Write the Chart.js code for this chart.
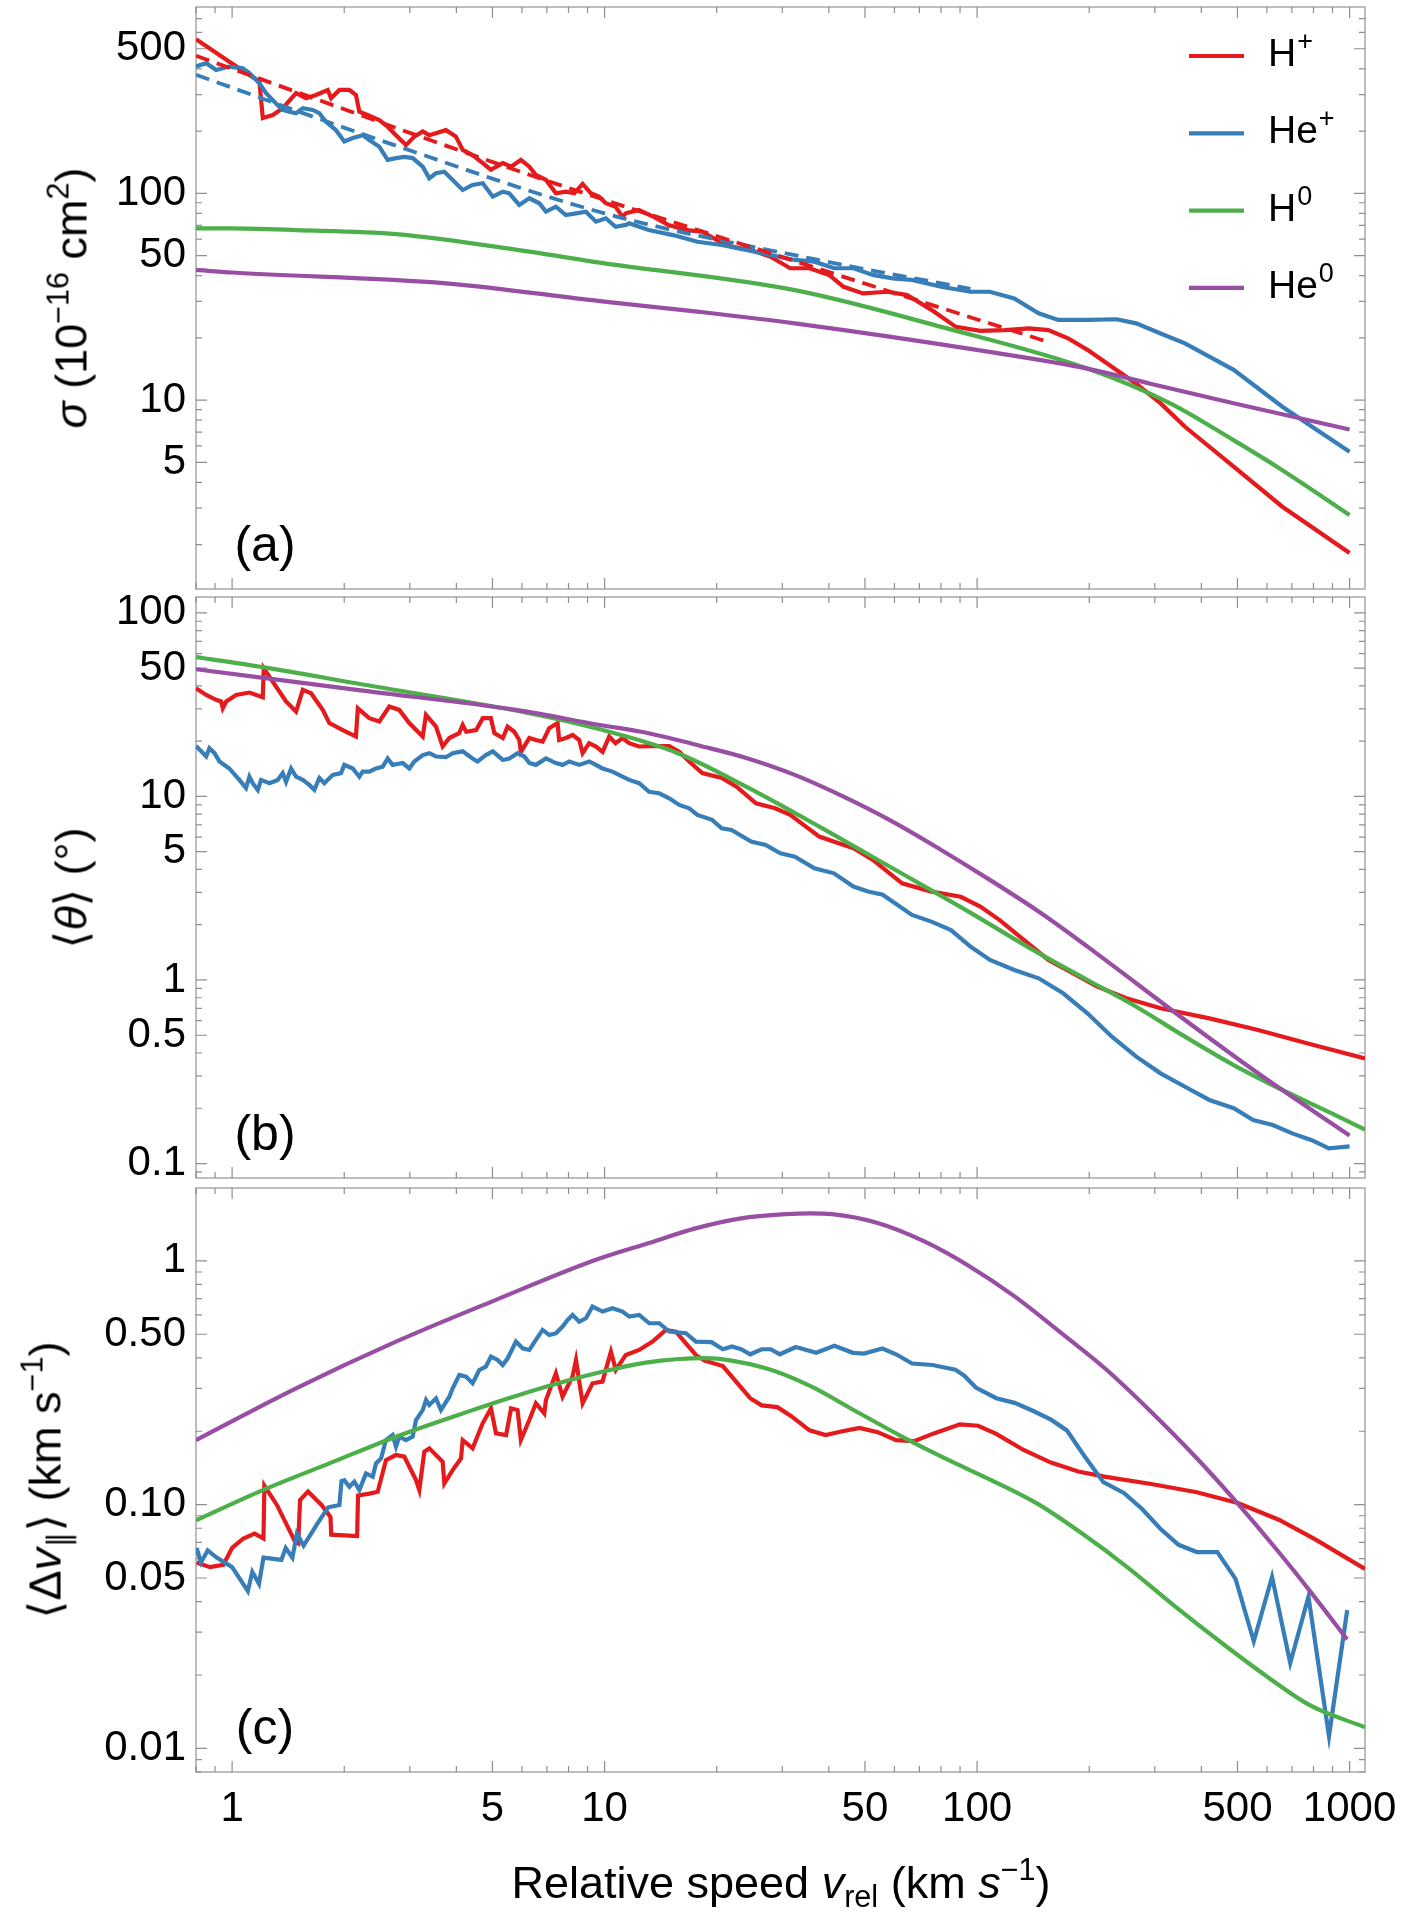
<!DOCTYPE html>
<html>
<head>
<meta charset="utf-8">
<script src="https://cdn.jsdelivr.net/npm/chart.js@4.4.1/dist/chart.umd.min.js"></script>
<style>
    body { margin: 0; background: #fff; }
    #fig { position: relative; width: 1408px; height: 1920px; font-family: 'Liberation Sans', Arial, sans-serif; color: #000; }
    canvas { position: absolute; left: 0; }
    .ytitle { position: absolute; font-size: 45px; white-space: nowrap; line-height: 1; transform: translate(-50%, -50%) rotate(-90deg); }
    .xtitle { position: absolute; font-size: 45px; white-space: nowrap; line-height: 1; transform: translateX(-50%); }
    sup { font-size: 0.68em; vertical-align: 0.6em; line-height: 0; }
    sub { font-size: 0.68em; vertical-align: -0.3em; line-height: 0; }
</style>
</head>
<body>
<div id="fig">
    <canvas id="chartA" width="1408" height="600" style="top:0"></canvas>
    <canvas id="chartB" width="1408" height="600" style="top:590px"></canvas>
    <canvas id="chartC" width="1408" height="740" style="top:1180px"></canvas>
    <div class="ytitle" style="left:71px;top:298px"><i>σ</i> (10<sup>−16</sup> cm<sup>2</sup>)</div>
    <div class="ytitle" style="left:71px;top:888px">⟨<i>θ</i>⟩ (°)</div>
    <div class="ytitle" style="left:45px;top:1480px">⟨Δ<i>v</i><sub>∥</sub>⟩ (km s<sup>−1</sup>)</div>
    <div class="xtitle" style="left:781px;top:1860px">Relative speed <i>v</i><sub>rel</sub> (km <i>s</i><sup>−1</sup>)</div>
</div>
<script>
Chart.defaults.font.family = "'Liberation Sans', Arial, sans-serif";
Chart.defaults.color = '#000';

// eksen ayarlari
const speedMin = 0.8, speedMax = 1100;
const xTickValues = [1, 5, 10, 50, 100, 500, 1000];
const sigmaTicks = [5, 10, 50, 100, 500];
const thetaTicks = [0.1, 0.5, 1, 5, 10, 50, 100];
const dvTicks = [0.01, 0.05, 0.1, 0.5, 1];
const dvTickLabels = ['0.01', '0.05', '0.10', '0.50', '1'];

// lejant
const speciesBase = ['H', 'He', 'H', 'He'];
const speciesSup = ['+', '+', '0', '0'];
const speciesColors = ['#e41a1c', '#377eb8', '#4daf4a', '#984ea3'];

// (a) cross section, [v_rel, sigma]
const sigmaHp = [[0.8,556],[0.983,433],[1.184,347],[1.209,231],[1.286,239],[1.368,258],[1.485,305],[1.58,288],[1.68,299],[1.806,316],[1.844,288],[1.941,316],[2.064,316],[2.15,299],[2.196,248],[2.335,237],[2.484,226],[2.616,210],[2.754,191],[2.93,171],[3.084,188],[3.249,199],[3.383,191],[3.75,202],[3.99,188],[4.16,162],[4.42,153],[4.71,140],[4.95,130],[5.33,140],[5.61,134.5],[5.96,145],[6.28,134.5],[6.54,122.6],[6.96,116],[7.4,100],[7.87,101.8],[8.29,100],[8.73,111],[9.19,100],[9.67,96.3],[10.08,89.5],[10.7,86.1],[11.17,77],[11.4,80],[12.36,83],[13.54,77],[14.82,70.3],[16.7,66.4],[18.29,65.2],[20.03,59.4],[21.92,55.2],[24.7,53.2],[27.9,49.3],[31.5,43.4],[35.5,43.4],[40.05,40.3],[43.8,35.3],[49.4,32.8],[57.5,33.4],[64.9,32.2],[75.4,27.3],[87.7,22.6],[102,21.6],[118.6,21.8],[137.8,22.2],[155.4,21.8],[175.4,19.9],[197.8,17.5],[230,14.5],[267.4,12.0],[311,9.64],[361.5,7.43],[488.5,4.76],[660,3.05],[1000,1.82]];
const sigmaHep = [[0.8,410],[0.852,426],[0.906,395],[0.983,410],[1.068,402],[1.113,381],[1.184,340],[1.234,305],[1.312,272],[1.368,253],[1.424,248],[1.485,244],[1.548,258],[1.646,253],[1.715,244],[1.787,222],[1.901,202],[2.001,178],[2.108,185],[2.242,191],[2.335,181],[2.484,168],[2.616,145],[2.754,148],[2.9,150],[3.054,148],[3.249,134.5],[3.383,118.2],[3.527,125],[3.712,127.2],[3.91,116],[4.16,103.7],[4.42,109.7],[4.71,111.8],[5.01,96.3],[5.33,101.8],[5.55,100],[5.9,87.8],[6.28,94.6],[6.68,89.5],[6.96,81.5],[7.4,86.1],[7.87,78.5],[8.38,80],[8.91,81.5],[9.48,72.9],[10.08,75.7],[10.7,68.9],[11.4,70.3],[11.64,71.6],[13.13,66.4],[15.27,62.8],[17.75,58.3],[20.64,56.2],[23.99,53.2],[27.9,50.3],[32.4,47.6],[36.6,46.7],[41.3,43.4],[46.6,43.4],[52.5,40.3],[59.3,38.8],[66.8,38.1],[80.1,35.3],[95.9,33.4],[108.2,33.4],[125.8,31.0],[146.3,26.3],[165.1,24.4],[197.8,24.4],[237,24.6],[267.4,23.5],[311,21.0],[361.5,18.8],[488.5,14.0],[660,9.28],[768,7.72],[1000,5.62]];
const sigmaHpFit = [[0.8,462],[6.28,123],[32.4,47],[155,19.1]];
const sigmaHepFit = [[0.8,374],[2.754,170],[10,80],[36.6,48],[96,34.5]];
const sigmaH0 = [[0.8,67.7],[1,67.6],[1.485,66.4],[2.754,63.5],[6.28,52.2],[9.71,46.2],[32.4,34.0],[80.1,22.6],[197.8,14.2],[330,9.64],[488,6.4],[660,4.58],[1000,2.78]];
const sigmaHe0 = [[0.8,42.6],[1,41.4],[3.75,36.7],[9.71,30.1],[18,26.7],[32.4,23.5],[108,17.1],[197.8,14.2],[292,12.0],[488,9.66],[1000,7.21]];

// (b) mean deflection angle, [v_rel, theta]
const thetaHp = [[0.8,38.9],[0.852,35.7],[0.906,33.6],[0.934,32.9],[0.944,30.2],[0.964,32.9],[1.025,35.7],[1.113,36.8],[1.209,34.7],[1.216,49.9],[1.312,39.7],[1.396,32.9],[1.485,29.0],[1.548,38.1],[1.629,36.5],[1.751,29.6],[1.824,25.1],[1.982,23.0],[2.15,21.2],[2.175,30.2],[2.335,26.7],[2.484,25.6],[2.643,30.9],[2.81,29.6],[2.99,25.1],[3.249,21.2],[3.315,27.8],[3.527,24.0],[3.675,18.7],[3.83,20.8],[4.07,22.1],[4.16,24.5],[4.25,22.5],[4.52,23.0],[4.71,26.7],[4.95,26.7],[5.06,22.1],[5.33,20.8],[5.49,24.0],[5.72,22.5],[5.9,20.3],[5.96,17.5],[6.28,20.8],[6.54,20.3],[6.82,19.9],[7.1,23.5],[7.48,25.1],[7.55,20.3],[7.87,20.8],[8.21,21.6],[8.55,20.3],[8.73,17.2],[9.09,19.5],[9.48,18.7],[9.88,17.5],[10.29,21.2],[10.7,19.5],[11.17,20.8],[11.64,19.5],[12.38,18.7],[13.45,18.8],[14.91,18.8],[15.86,17.5],[16.87,15.5],[18.29,13.4],[20.64,12.6],[22.6,11.3],[25.5,9.18],[28.7,8.62],[31.5,7.93],[37.7,6.04],[42.5,5.56],[46.6,5.22],[52.5,4.51],[62.9,3.36],[75.4,3.03],[90.4,2.84],[102,2.51],[115,2.12],[133.7,1.65],[155.4,1.285],[180.7,1.088],[210.2,0.919],[251.7,0.795],[311,0.701],[420.4,0.618],[568,0.534],[768,0.452],[1100,0.374]];
const thetaHep = [[0.8,18.8],[0.826,17.6],[0.852,16.5],[0.869,18.3],[0.897,17.2],[0.925,15.5],[0.983,14.2],[1.046,12.3],[1.09,11.1],[1.113,12.8],[1.136,11.8],[1.172,10.85],[1.196,12.3],[1.259,11.8],[1.326,12.3],[1.367,13.4],[1.396,12.0],[1.44,14.2],[1.485,12.8],[1.547,12.3],[1.612,11.55],[1.663,10.85],[1.715,12.6],[1.769,11.8],[1.863,13.1],[1.961,13.4],[2.001,14.85],[2.108,14.2],[2.196,12.8],[2.242,13.65],[2.336,13.65],[2.434,14.2],[2.537,14.5],[2.616,16.1],[2.698,14.85],[2.871,15.2],[2.991,14.2],[3.084,15.5],[3.249,16.8],[3.384,17.2],[3.527,16.5],[3.75,16.35],[3.91,17.2],[4.16,17.6],[4.42,16.1],[4.56,15.5],[4.8,16.8],[5.01,17.6],[5.33,15.8],[5.55,16.1],[5.84,17.2],[6.09,16.5],[6.28,15.2],[6.54,14.85],[6.96,16.1],[7.4,15.2],[7.71,14.85],[8.04,15.5],[8.55,14.85],[9.09,15.5],[9.48,14.85],[9.87,14.2],[10.5,13.65],[11.17,12.8],[11.64,12.3],[12.38,11.8],[13.17,10.6],[14.02,10.4],[14.91,9.77],[15.86,8.99],[16.87,8.62],[17.75,7.93],[19.43,7.45],[20.63,6.71],[21.92,6.57],[24.73,5.67],[27.06,5.44],[29.64,4.9],[32.43,4.7],[36.59,4.06],[41.28,3.81],[46.56,3.23],[50.97,3.03],[55.8,2.91],[66.86,2.26],[75.4,2.08],[85.1,1.87],[96,1.52],[108.3,1.285],[125.9,1.134],[146.3,1.021],[170.2,0.846],[197.8,0.658],[230.1,0.491],[267.5,0.382],[310.9,0.31],[361.5,0.262],[420.3,0.222],[488.7,0.2],[551,0.1726],[622,0.162],[701.5,0.146],[791.5,0.134],[879.6,0.121],[1000,0.124]];
const thetaH0 = [[0.8,57.4],[1.209,50.6],[2.242,40.7],[6.28,28.4],[9.71,23.2],[15.73,17.2],[23.99,11.3],[37.7,6.85],[59.3,4.06],[93.1,2.41],[146.3,1.40],[197.8,1.0],[267.4,0.715],[361.5,0.491],[488.5,0.344],[660,0.2515],[893,0.188],[1100,0.153]];
const thetaHe0 = [[0.8,49.3],[2.242,37.7],[5.78,29.6],[9.71,24.5],[13.13,22.1],[18,18.9],[24,16.2],[32.4,13.1],[43.8,9.97],[59.3,7.29],[80.1,5.11],[108.2,3.51],[146.3,2.36],[197.8,1.52],[267.4,0.96],[361.5,0.605],[568,0.31],[1000,0.142]];

// (c) mean parallel velocity change, [v_rel, dv]
const dvHp = [[0.803,0.0579],[0.872,0.0554],[0.947,0.0566],[1.0,0.0664],[1.072,0.0726],[1.149,0.076],[1.214,0.0726],[1.221,0.1195],[1.319,0.0997],[1.472,0.071],[1.505,0.0694],[1.522,0.1043],[1.599,0.1132],[1.738,0.0997],[1.837,0.089],[1.846,0.0753],[2.166,0.0743],[2.178,0.109],[2.336,0.111],[2.46,0.1129],[2.589,0.1523],[2.754,0.1597],[2.9,0.1572],[3.117,0.126],[3.181,0.1147],[3.281,0.1648],[3.384,0.1701],[3.675,0.15],[3.713,0.1222],[3.909,0.1385],[4.116,0.1547],[4.16,0.184],[4.423,0.1701],[4.706,0.2155],[4.955,0.2483],[5.11,0.196],[5.44,0.193],[5.61,0.2483],[5.84,0.2443],[5.96,0.184],[6.28,0.2223],[6.54,0.2603],[6.89,0.2367],[6.96,0.2686],[7.4,0.3457],[7.71,0.2772],[8.2,0.335],[8.38,0.392],[8.73,0.2603],[9.28,0.3146],[9.87,0.3195],[10.4,0.4243],[10.72,0.3567],[11.4,0.4111],[12.38,0.4311],[13.45,0.4663],[14.6,0.5207],[15.54,0.5127],[16.53,0.459],[17.58,0.411],[18.55,0.3895],[20.77,0.3702],[22.6,0.318],[24.6,0.2732],[26.4,0.2553],[29.1,0.2511],[31.7,0.2307],[35.5,0.2016],[39.2,0.193],[43.2,0.1995],[48.4,0.2063],[54.1,0.1982],[60.6,0.184],[67.8,0.182],[75.9,0.195],[89.9,0.2135],[100.6,0.2106],[112.6,0.195],[133.3,0.1675],[157.9,0.1488],[186.9,0.1367],[221.4,0.13],[293.5,0.1215],[388.9,0.1124],[501,0.1016],[645.7,0.0867],[809,0.072],[1100,0.0545]];
const dvHep = [[0.803,0.0664],[0.825,0.0579],[0.86,0.0649],[0.909,0.0606],[1.0,0.0554],[1.102,0.0442],[1.133,0.0529],[1.181,0.0473],[1.214,0.0606],[1.356,0.0593],[1.393,0.0664],[1.452,0.0606],[1.493,0.076],[1.556,0.0679],[1.691,0.0832],[1.811,0.0975],[1.941,0.0997],[1.967,0.125],[2.001,0.126],[2.065,0.1183],[2.129,0.1241],[2.196,0.1147],[2.288,0.1343],[2.385,0.1301],[2.434,0.1476],[2.511,0.1547],[2.589,0.184],[2.698,0.193],[2.754,0.1728],[2.812,0.19],[2.93,0.184],[3.053,0.19],[3.117,0.2223],[3.249,0.2443],[3.316,0.2685],[3.384,0.2562],[3.527,0.2729],[3.637,0.2443],[3.83,0.2772],[3.91,0.3],[4.074,0.3402],[4.245,0.335],[4.423,0.3146],[4.609,0.3567],[4.8,0.3681],[4.954,0.4046],[5.163,0.392],[5.326,0.374],[5.493,0.3983],[5.781,0.4663],[6.025,0.4378],[6.28,0.4311],[6.54,0.474],[6.816,0.5207],[7.1,0.4967],[7.4,0.5046],[7.713,0.5376],[7.955,0.5725],[8.204,0.6],[8.55,0.5633],[8.91,0.5814],[9.28,0.6494],[9.874,0.6194],[10.5,0.6392],[11.17,0.6194],[11.65,0.5906],[12.38,0.6],[13.18,0.5546],[14.02,0.5546],[14.91,0.5127],[16.53,0.5046],[17.58,0.4663],[19.36,0.464],[20.77,0.4338],[21.97,0.4458],[23.25,0.4338],[24.6,0.4137],[26.4,0.4338],[27.92,0.4338],[29.54,0.4137],[32.6,0.4428],[37.0,0.4195],[41.4,0.4487],[46.4,0.4195],[49.7,0.4166],[55.7,0.4368],[60.6,0.4137],[66.9,0.379],[75.9,0.374],[87.4,0.3579],[92.4,0.338],[99.2,0.3022],[112.6,0.2732],[126.1,0.2615],[141.1,0.2427],[157.9,0.2231],[174.2,0.2016],[192.2,0.1618],[218.3,0.1236],[247.8,0.1116],[277.3,0.0959],[310.5,0.0796],[347.5,0.0684],[388.9,0.0639],[441.6,0.0639],[494.1,0.0496],[553.1,0.0275],[619.2,0.0505],[692.9,0.0224],[775.6,0.0419],[880.5,0.01123],[985.4,0.0369]];
const dvH0 = [[0.8,0.0862],[1.209,0.1147],[1.824,0.1476],[2.754,0.19],[4.16,0.2367],[6.28,0.2906],[9.48,0.3457],[12.9,0.3824],[18.55,0.399],[26.8,0.364],[35.5,0.3075],[47.0,0.2427],[62.3,0.1916],[82.6,0.1539],[109.5,0.1257],[145.1,0.1009],[192.3,0.0757],[254.9,0.0549],[337.9,0.0385],[447.7,0.0275],[593.5,0.01995],[786.5,0.01497],[1100,0.0122]];
const dvHe0 = [[0.8,0.184],[1.485,0.30],[2.754,0.466],[5.11,0.692],[9.48,1.01],[13.23,1.187],[17.54,1.359],[23.25,1.494],[30.8,1.555],[35.5,1.566],[40.8,1.555],[54.1,1.43],[71.7,1.207],[95.1,0.953],[126.1,0.715],[167.1,0.51],[221.4,0.36],[293.5,0.24],[388.9,0.155],[501,0.101],[650,0.063],[780,0.0445],[985,0.028]];

// log eksende ara cizgiler
function logMarks(min, max) {
    const out = [];
    for (let e = Math.floor(Math.log10(min)); e <= Math.ceil(Math.log10(max)); e++) {
        for (let k = 1; k < 10; k++) {
            const v = k * Math.pow(10, e);
            if (v >= min * 0.999 && v <= max * 1.001) out.push(v);
        }
    }
    return out;
}

function isMajor(v, list) {
    return list.some(t => Math.abs(v - t) / t < 1e-6);
}

// cerceve, ice bakan tick'ler ve panel harfi
const framePlugin = {
    id: 'frame',
    beforeDatasetsDraw(chart, args, opts) {
        const ctx = chart.ctx;
        const a = chart.chartArea;
        const x = chart.scales.x, y = chart.scales.y;
        ctx.save();
        ctx.strokeStyle = '#a8a8a8';
        ctx.lineWidth = 1.5;
        ctx.strokeRect(a.left, a.top, a.right - a.left, a.bottom - a.top);
        ctx.strokeStyle = '#8e8e8e';
        ctx.lineWidth = 1.2;
        ctx.beginPath();
        logMarks(x.min, x.max).forEach(v => {
            const px = x.getPixelForValue(v);
            const len = isMajor(v, xTickValues) ? 11 : 6;
            ctx.moveTo(px, a.bottom); ctx.lineTo(px, a.bottom - len);
            ctx.moveTo(px, a.top); ctx.lineTo(px, a.top + len);
        });
        logMarks(y.min, y.max).forEach(v => {
            const py = y.getPixelForValue(v);
            const len = isMajor(v, opts.major) ? 11 : 6;
            ctx.moveTo(a.left, py); ctx.lineTo(a.left + len, py);
            ctx.moveTo(a.right, py); ctx.lineTo(a.right - len, py);
        });
        ctx.stroke();
        ctx.fillStyle = '#000';
        ctx.font = "50px 'Liberation Sans', Arial, sans-serif";
        ctx.textAlign = 'center';
        ctx.textBaseline = 'middle';
        ctx.fillText(opts.letter, 265, a.bottom - 42);
        ctx.restore();
    }
};

// panel (a) icindeki lejant
const legendPlugin = {
    id: 'ionLegend',
    afterDraw(chart) {
        const ctx = chart.ctx;
        ctx.save();
        speciesBase.forEach((name, i) => {
            const yy = 56 + i * 77.3;
            ctx.strokeStyle = speciesColors[i];
            ctx.lineWidth = 4.2;
            ctx.beginPath();
            ctx.moveTo(1189, yy);
            ctx.lineTo(1244, yy);
            ctx.stroke();
            ctx.fillStyle = '#000';
            ctx.textAlign = 'left';
            ctx.textBaseline = 'alphabetic';
            ctx.font = "39px 'Liberation Sans', Arial, sans-serif";
            ctx.fillText(name, 1268, yy + 10);
            const w = ctx.measureText(name).width;
            ctx.font = "27px 'Liberation Sans', Arial, sans-serif";
            ctx.fillText(speciesSup[i], 1268 + w + 1, yy - 6);
        });
        ctx.restore();
    }
};

function series(points, color, extra) {
    return Object.assign({
        data: points.map(p => ({ x: p[0], y: p[1] })),
        borderColor: color,
        borderWidth: 4.2,
        pointRadius: 0,
        fill: false,
        tension: 0
    }, extra || {});
}

const smooth = { cubicInterpolationMode: 'monotone' };
const dashed = { borderDash: [14, 8], borderWidth: 3.8, cubicInterpolationMode: 'monotone' };

function createPanel(canvasId, datasets, yRange, yTicks, yLabels, letter, padding, showX, extraPlugins) {
    const ctx = document.getElementById(canvasId);
    if (!ctx) return null;

    return new Chart(ctx, {
        type: 'line',
        data: { datasets: datasets },
        options: {
            responsive: false,
            animation: false,
            devicePixelRatio: 1,
            events: [],
            layout: { padding: padding, autoPadding: false },
            plugins: {
                legend: { display: false },
                tooltip: { enabled: false },
                frame: { letter: letter, major: yTicks }
            },
            scales: {
                x: {
                    type: 'logarithmic',
                    min: speedMin,
                    max: speedMax,
                    display: showX,
                    grid: { display: false, drawTicks: false },
                    border: { display: false },
                    ticks: {
                        autoSkip: false,
                        maxRotation: 0,
                        padding: 12,
                        font: { size: 42 },
                        color: '#000',
                        callback: value => String(value)
                    },
                    afterBuildTicks: scale => {
                        scale.ticks = xTickValues.map(v => ({ value: v }));
                    },
                    afterFit: scale => {
                        // sadece alt panelde eksen yazilari icin yer ayir
                        scale.height = showX ? 148 : 0;
                        scale.paddingLeft = 0;
                        scale.paddingRight = 0;
                    }
                },
                y: {
                    type: 'logarithmic',
                    min: yRange[0],
                    max: yRange[1],
                    grid: { display: false, drawTicks: false },
                    border: { display: false },
                    ticks: {
                        autoSkip: false,
                        padding: 10,
                        font: { size: 42 },
                        color: '#000',
                        callback: (value, index) => yLabels ? yLabels[index] : String(value)
                    },
                    afterBuildTicks: scale => {
                        scale.ticks = yTicks.map(v => ({ value: v }));
                    },
                    afterFit: scale => {
                        scale.width = 196;
                        scale.paddingTop = 0;
                        scale.paddingBottom = 0;
                    }
                }
            }
        },
        plugins: [framePlugin].concat(extraPlugins || [])
    });
}

createPanel('chartA', [
    series(sigmaHpFit, speciesColors[0], dashed),
    series(sigmaHepFit, speciesColors[1], dashed),
    series(sigmaHe0, speciesColors[3], smooth),
    series(sigmaH0, speciesColors[2], smooth),
    series(sigmaHep, speciesColors[1]),
    series(sigmaHp, speciesColors[0])
], [1.22, 796], sigmaTicks, null, '(a)', { top: 7, bottom: 11, left: 0, right: 43 }, false, [legendPlugin]);

createPanel('chartB', [
    series(thetaHe0, speciesColors[3], smooth),
    series(thetaH0, speciesColors[2], smooth),
    series(thetaHep, speciesColors[1]),
    series(thetaHp, speciesColors[0])
], [0.0834, 122], thetaTicks, null, '(b)', { top: 7, bottom: 12, left: 0, right: 43 }, false);

createPanel('chartC', [
    series(dvHe0, speciesColors[3], smooth),
    series(dvH0, speciesColors[2], smooth),
    series(dvHep, speciesColors[1]),
    series(dvHp, speciesColors[0])
], [0.008, 1.99], dvTicks, dvTickLabels, '(c)', { top: 8, bottom: 0, left: 0, right: 43 }, true);
</script>
</body>
</html>
